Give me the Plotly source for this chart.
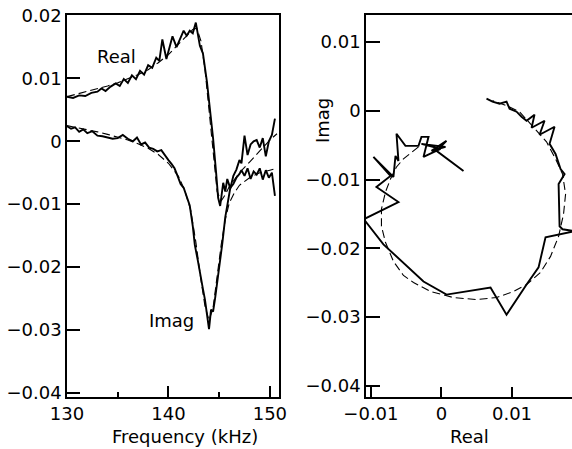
"""Resonance spectrum: real/imag vs frequency, and the complex-plane plot."""
import plotly.graph_objects as go
from plotly.subplots import make_subplots

# left panel, measured (solid) data
freq_real = [130.0, 130.6, 131.2, 131.8, 132.4, 133.0, 133.4, 133.8, 134.3, 134.8,
             135.2, 135.6, 136.0, 136.4, 136.8, 137.2, 137.6, 138.0, 138.4, 138.8,
             139.1, 139.4, 139.8, 140.1, 140.4, 140.8, 141.1, 141.5, 141.8, 142.1,
             142.4, 142.7, 143.1, 143.4, 143.8, 144.1, 144.4, 144.7, 144.9, 145.1,
             145.4, 145.6, 145.8, 146.1, 146.4, 146.7, 147.0, 147.2, 147.5, 147.8,
             148.1, 148.4, 148.7, 149.0, 149.3, 149.6, 149.9, 150.2, 150.5]
real_meas = [0.0071, 0.0069, 0.0073, 0.0072, 0.0077, 0.0079, 0.0084, 0.0080, 0.0087, 0.0092,
             0.0088, 0.0099, 0.0093, 0.0105, 0.0099, 0.0112, 0.0106, 0.0121, 0.0117, 0.0133,
             0.0128, 0.0162, 0.0131, 0.0150, 0.0167, 0.0150, 0.0162, 0.0176, 0.0168, 0.0176,
             0.0172, 0.0189, 0.0152, 0.0140, 0.0094, 0.0050, 0.0005, -0.0050, -0.0090, -0.0103,
             -0.0066, -0.0080, -0.0060, -0.0075, -0.0055, -0.0045, -0.0030, -0.0035, 0.0009, -0.0022,
             -0.0005, 0.0000, 0.0002, -0.0010, 0.0005, -0.0024, 0.0000, 0.0010, 0.0036]

freq_imag = [130.0, 130.4, 130.8, 131.2, 131.6, 132.0, 132.5, 133.0, 133.5, 134.0,
             134.5, 135.0, 135.5, 136.0, 136.5, 136.9, 137.3, 137.7, 138.1, 138.5,
             138.9, 139.3, 139.7, 140.0, 140.3, 140.6, 140.9, 141.2, 141.5, 141.8,
             142.1, 142.4, 142.6, 142.9, 143.1, 143.4, 143.6, 143.8, 144.0, 144.2,
             144.4, 144.6, 144.8, 145.0, 145.3, 145.6, 145.9, 146.1, 146.4, 146.7,
             147.0, 147.2, 147.5, 147.8, 148.1, 148.4, 148.7, 149.0, 149.3, 149.6,
             149.9, 150.2, 150.5]
imag_meas = [0.0024, 0.0020, 0.0022, 0.0015, 0.0019, 0.0013, 0.0016, 0.0009, 0.0008, 0.0006,
             0.0004, 0.0005, 0.0010, 0.0004, 0.0000, 0.0006, -0.0005, -0.0002, -0.0010, -0.0012,
             -0.0016, -0.0014, -0.0024, -0.0030, -0.0036, -0.0043, -0.0055, -0.0068, -0.0074, -0.0088,
             -0.0102, -0.0135, -0.0165, -0.0190, -0.0211, -0.0235, -0.0252, -0.0275, -0.0299, -0.0268,
             -0.0271, -0.0250, -0.0227, -0.0200, -0.0164, -0.0121, -0.0095, -0.0074, -0.0068, -0.0058,
             -0.0052, -0.0046, -0.0055, -0.0043, -0.0060, -0.0048, -0.0053, -0.0043, -0.0061, -0.0046,
             -0.0058, -0.0050, -0.0087]

# left panel, fitted (dashed) curves
freq_fit_real = [130, 131, 132, 133, 134, 135, 136, 137, 138, 139, 140, 141, 141.8, 142.4,
                 142.8, 143.2, 143.6, 144.0, 144.4, 144.8, 145.2, 145.6, 146.0, 147, 148,
                 149, 150, 150.7]
real_fit = [0.0071, 0.0075, 0.0079, 0.0083, 0.0088, 0.0093, 0.0099, 0.0106, 0.0114, 0.0125,
            0.0138, 0.0154, 0.0168, 0.0178, 0.0180, 0.0160, 0.0115, 0.0050, -0.0020, -0.0080,
            -0.0095, -0.0085, -0.0072, -0.0050, -0.0033, -0.0015, 0.0002, 0.0012]

freq_fit_imag = [130, 131, 132, 133, 134, 135, 136, 137, 138, 139, 140, 141, 141.6, 142.2,
                 142.7, 143.2, 143.6, 144.0, 144.4, 144.8, 145.2, 145.6, 146.0, 146.5, 147,
                 148, 149, 150, 150.7]
imag_fit = [0.0025, 0.0022, 0.0019, 0.0015, 0.0011, 0.0007, 0.0002, -0.0004, -0.0011, -0.0021,
            -0.0035, -0.0056, -0.0078, -0.0110, -0.0160, -0.0220, -0.0262, -0.0285, -0.0265, -0.0215,
            -0.0165, -0.0125, -0.0098, -0.0082, -0.0070, -0.0058, -0.0050, -0.0046, -0.0043]

# right panel, measured path in the complex plane
cp_real = [0.00638, 0.00723, 0.00823, 0.00922, 0.00965, 0.01064, 0.01135, 0.01206, 0.01319, 0.01277,
           0.01461, 0.01390, 0.01603, 0.01532, 0.01617, 0.01688, 0.01745, 0.01660, 0.01674, 0.01716,
           0.01887, 0.01475, 0.01376, 0.01206, 0.00922, 0.00695, 0.00071, -0.00255, -0.00823, -0.01100,
           -0.00610, -0.00922, -0.00723, -0.00965, -0.00681, -0.00652, -0.00610, -0.00638, -0.00511, -0.00326,
           -0.00284, -0.00184, -0.00255, -0.00014, -0.00284, 0.00057, -0.00142, 0.00071, -0.00071, 0.00312]
cp_imag = [0.00175, 0.00131, 0.00102, 0.00131, 0.00029, -0.00015, -0.00088, -0.00146, -0.00058, -0.00248,
           -0.00146, -0.00350, -0.00234, -0.00482, -0.00628, -0.00847, -0.00920, -0.01066, -0.01679, -0.01723,
           -0.01752, -0.01839, -0.02277, -0.02526, -0.02964, -0.02569, -0.02672, -0.02482, -0.01942, -0.01577,
           -0.01328, -0.01109, -0.00949, -0.00672, -0.00964, -0.00657, -0.00730, -0.00336, -0.00511, -0.00511,
           -0.00380, -0.00380, -0.00672, -0.00555, -0.00482, -0.00526, -0.00584, -0.00438, -0.00584, -0.00876]

# right panel, fitted arc
arc_real = [-0.00326, -0.00397, -0.00539, -0.00638, -0.00723, -0.00794, -0.00851, -0.00851, -0.00794, -0.00681,
            -0.00539, -0.00397, -0.00156, 0.00170, 0.00496, 0.00780, 0.01021, 0.01206, 0.01404, 0.01546,
            0.01660, 0.01730, 0.01759, 0.01716, 0.01617, 0.01489, 0.01291, 0.01106, 0.00922, 0.00723]
arc_imag = [-0.00526, -0.00584, -0.00701, -0.00818, -0.00993, -0.01182, -0.01431, -0.01679, -0.01912, -0.02190,
            -0.02394, -0.02496, -0.02628, -0.02715, -0.02745, -0.02715, -0.02628, -0.02526, -0.02350, -0.02117,
            -0.01825, -0.01504, -0.01212, -0.00920, -0.00701, -0.00453, -0.00219, -0.00015, 0.00073, 0.00146]

W, H = 572, 449
FONT = "DejaVu Sans, Liberation Sans, Arial, sans-serif"
FONT_SIZE = 18
solid = dict(color="black", width=1.9)
dashed = dict(color="black", width=1.1, dash="8px,4px")

fig = make_subplots(rows=1, cols=2)
fig.add_trace(go.Scatter(x=freq_fit_real, y=real_fit, mode="lines", line=dashed), 1, 1)
fig.add_trace(go.Scatter(x=freq_fit_imag, y=imag_fit, mode="lines", line=dashed), 1, 1)
fig.add_trace(go.Scatter(x=freq_real, y=real_meas, mode="lines", line=solid), 1, 1)
fig.add_trace(go.Scatter(x=freq_imag, y=imag_meas, mode="lines", line=solid), 1, 1)
fig.add_trace(go.Scatter(x=arc_real, y=arc_imag, mode="lines", line=dashed), 1, 2)
fig.add_trace(go.Scatter(x=cp_real, y=cp_imag, mode="lines", line=solid), 1, 2)

ydom = [(H - 397) / H, (H - 15) / H]
axis_style = dict(showline=True, linecolor="black", linewidth=1.5, mirror=True, automargin=False,
                  showgrid=False, zeroline=False, ticks="inside", tickcolor="black",
                  tickwidth=1.5, tickfont=dict(size=FONT_SIZE, color="black"))

fig.update_xaxes(domain=[67 / W, 279 / W], range=[130, 150.9], tick0=130, dtick=10,
                 ticklen=11, minor=dict(dtick=5, ticks="inside", ticklen=5, tickcolor="black", tickwidth=1.5),
                 **axis_style, row=1, col=1)
fig.update_yaxes(domain=ydom, range=[-0.0407, 0.0201], tickvals=[0.02, 0.01, 0, -0.01, -0.02, -0.03, -0.04],
                 ticktext=["0.02", "0.01", "0", "\u22120.01", "\u22120.02", "\u22120.03", "\u22120.04"],
                 ticklen=13, **axis_style, row=1, col=1)
fig.update_xaxes(domain=[366 / W, 1.0], range=[-0.0107, 0.0185], tickvals=[-0.01, 0, 0.01],
                 ticktext=["\u22120.01", "0", "0.01"], ticklen=10, **axis_style, row=1, col=2)
fig.update_yaxes(domain=ydom, range=[-0.0416, 0.0139], tickvals=[0.01, 0, -0.01, -0.02, -0.03, -0.04],
                 ticktext=["0.01", "0", "\u22120.01", "\u22120.02", "\u22120.03", "\u22120.04"],
                 ticklen=14, **axis_style, row=1, col=2)

labels = [
    ("Real", 116, 57, 0),
    ("Imag", 171, 320, 0),
    ("Frequency (kHz)", 185, 436, 0),
    ("Real", 469, 436, 0),
    ("Imag", 322, 121, -90),
]
for text, px_x, px_y, angle in labels:
    fig.add_annotation(text=text, x=px_x / W, y=1 - px_y / H, xref="paper", yref="paper",
                       showarrow=False, textangle=angle, font=dict(size=FONT_SIZE, color="black"),
                       xanchor="center", yanchor="middle")

fig.update_layout(
    width=W, height=H,
    margin=dict(l=0, r=0, t=0, b=0),
    paper_bgcolor="white", plot_bgcolor="white",
    showlegend=False,
    font=dict(family=FONT, color="black"),
)
# the page has a default 8px body margin; drop it so the figure sits at the window corner
fig.write_html("out.html", config={"displayModeBar": False},
               post_script="document.body.style.margin='0';")
